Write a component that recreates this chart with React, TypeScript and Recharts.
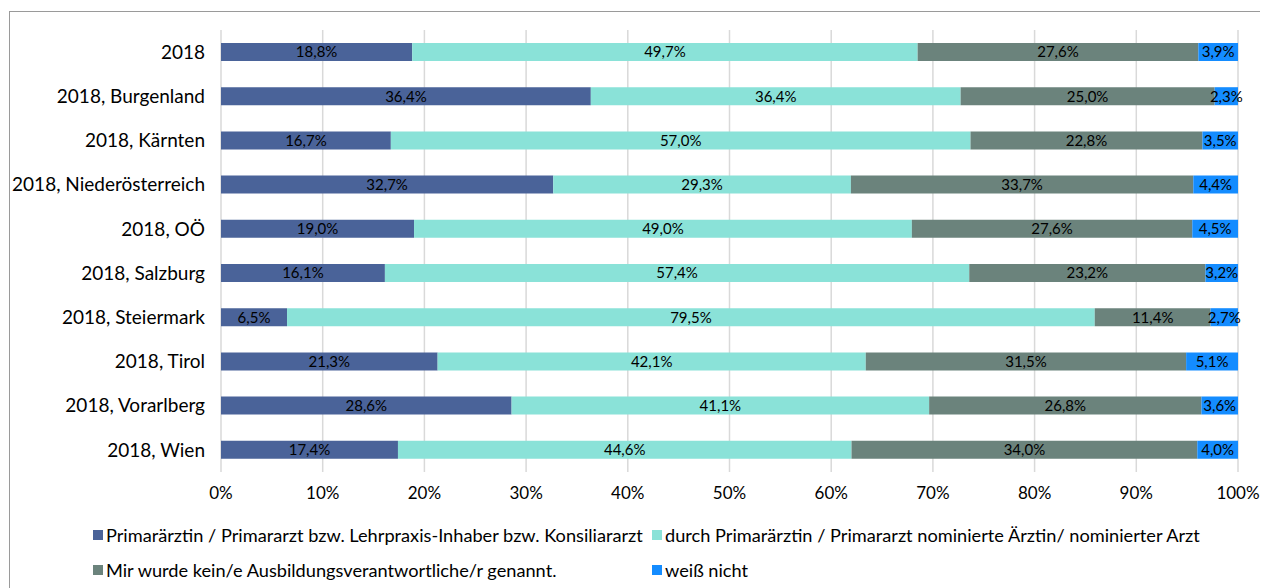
import React from 'react';
import { BarChart, Bar, XAxis, YAxis, CartesianGrid, LabelList } from 'recharts';

const categories = [
  '2018',
  '2018, Burgenland',
  '2018, Kärnten',
  '2018, Niederösterreich',
  '2018, OÖ',
  '2018, Salzburg',
  '2018, Steiermark',
  '2018, Tirol',
  '2018, Vorarlberg',
  '2018, Wien',
];

const primar = [18.8, 36.4, 16.7, 32.7, 19.0, 16.1, 6.5, 21.3, 28.6, 17.4];
const nominiert = [49.7, 36.4, 57.0, 29.3, 49.0, 57.4, 79.5, 42.1, 41.1, 44.6];
const keiner = [27.6, 25.0, 22.8, 33.7, 27.6, 23.2, 11.4, 31.5, 26.8, 34.0];
const weissNicht = [3.9, 2.3, 3.5, 4.4, 4.5, 3.2, 2.7, 5.1, 3.6, 4.0];

const xTicks = [0, 0.1, 0.2, 0.3, 0.4, 0.5, 0.6, 0.7, 0.8, 0.9, 1];

const series = [
  { key: 'primar', name: 'Primarärztin / Primararzt bzw. Lehrpraxis-Inhaber bzw. Konsiliararzt', color: '#4a6399' },
  { key: 'nominiert', name: 'durch Primarärztin / Primararzt nominierte Ärztin/ nominierter Arzt', color: '#8ae2d8' },
  { key: 'keiner', name: 'Mir wurde kein/e Ausbildungsverantwortliche/r genannt.', color: '#6b837c' },
  { key: 'weissNicht', name: 'weiß nicht', color: '#148cff' },
];

const data = categories.map((c, i) => ({
  name: c,
  primar: primar[i],
  nominiert: nominiert[i],
  keiner: keiner[i],
  weissNicht: weissNicht[i],
}));

const FONT = 'Lato, "Liberation Sans", sans-serif';

const fmt = (v: any) => Number(v).toFixed(1).replace('.', ',') + '%';

const LegendItem = ({ color, label, left, top }: { color: string; label: string; left: number; top: number }) => (
  <div style={{ position: 'absolute', left, top, display: 'flex', alignItems: 'center', whiteSpace: 'nowrap', height: 20 }}>
    <span style={{ display: 'inline-block', width: 10, height: 10, background: color, marginRight: 3 }} />
    <span style={{ fontSize: 18.2, color: '#000', lineHeight: '20px' }}>{label}</span>
  </div>
);

export default function App() {
  return (
    <div style={{ position: 'relative', width: 1260, height: 580, fontFamily: FONT, overflow: 'hidden' }}>
      <div
        style={{
          position: 'absolute',
          left: 1,
          top: 3,
          width: 1400,
          height: 700,
          borderTop: '1px solid #9a9a9a',
          borderLeft: '1px solid #9a9a9a',
        }}
      />
      <div style={{ position: 'absolute', left: 0, top: 0 }}>
        <BarChart
          width={1260}
          height={502}
          data={data}
          layout="vertical"
          stackOffset="expand"
          margin={{ top: 22, right: 30, bottom: 8, left: 0 }}
          barCategoryGap={0}
        >
          <CartesianGrid horizontal={false} stroke="#d9d9d9" strokeWidth={1.5} />
          <XAxis
            type="number"
            domain={[0, 1]}
            ticks={xTicks}
            tickFormatter={(v: number) => `${Math.round(v * 100)}%`}
            axisLine={false}
            tickLine={false}
            tickMargin={9}
            height={30}
            tick={{ fill: '#000', fontSize: 17, fontFamily: FONT }}
            interval={0}
          />
          <YAxis
            type="category"
            dataKey="name"
            width={213}
            axisLine={false}
            tickLine={false}
            tickMargin={10}
            tick={{ fill: '#000', fontSize: 19, fontFamily: FONT }}
            interval={0}
          />
          {series.map((s) => (
            <Bar key={s.key} dataKey={s.key} stackId="a" fill={s.color} barSize={18} isAnimationActive={false}>
              <LabelList
                dataKey={s.key}
                position="center"
                formatter={fmt}
                style={{ fill: '#000', fontSize: 15, fontFamily: FONT }}
              />
            </Bar>
          ))}
        </BarChart>
      </div>
      <LegendItem color={series[0].color} label={series[0].name} left={85} top={517} />
      <LegendItem color={series[1].color} label={series[1].name} left={644} top={517} />
      <LegendItem color={series[2].color} label={series[2].name} left={85} top={552} />
      <LegendItem color={series[3].color} label={series[3].name} left={644} top={552} />
    </div>
  );
}
